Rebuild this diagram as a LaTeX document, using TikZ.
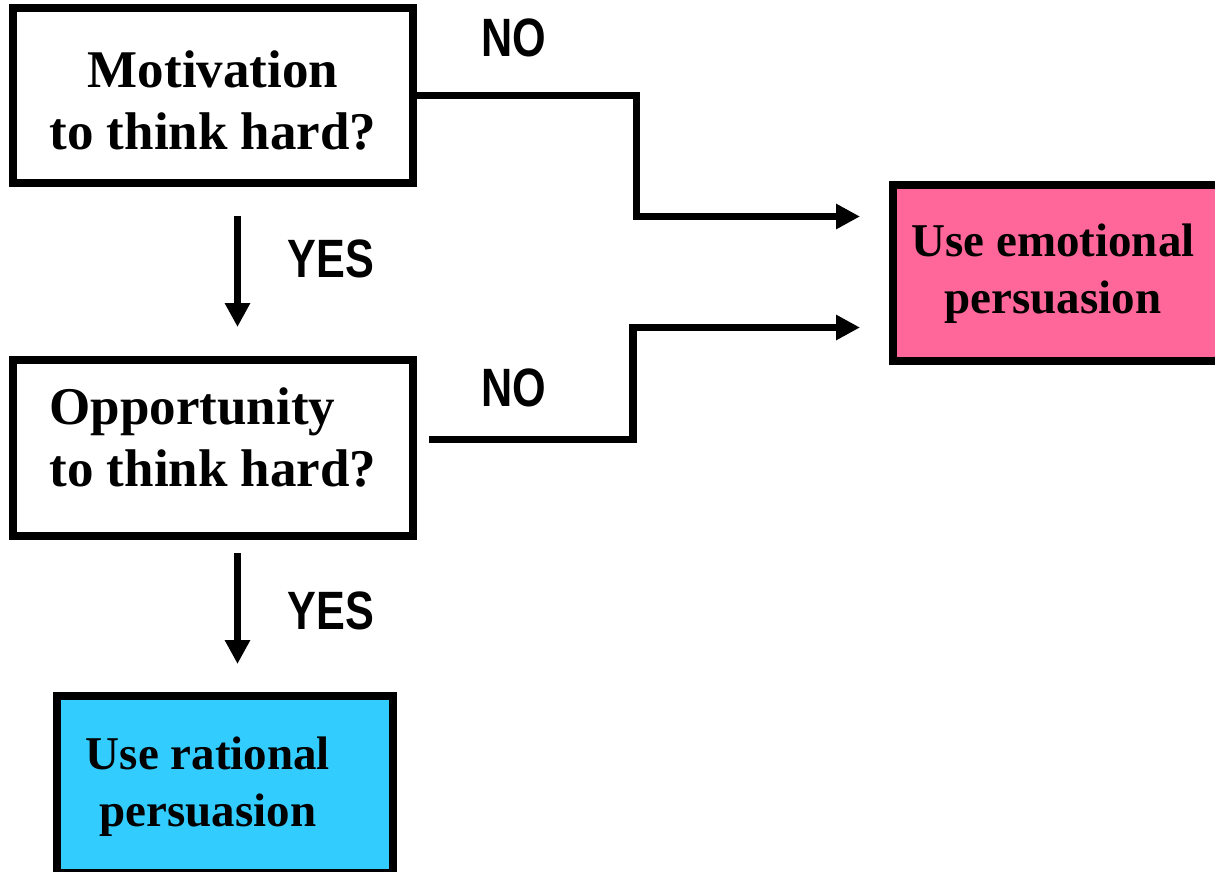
\documentclass[tikz,border=0pt]{standalone}
\usepackage{fontspec}
\usepackage{graphicx}
\setmainfont{Liberation Serif}
\newfontfamily\lblfont{Liberation Sans}
\usetikzlibrary{arrows.meta}
\definecolor{pinkbox}{HTML}{FF6699}
\definecolor{cyanbox}{HTML}{33CCFF}
\begin{document}
\begin{tikzpicture}[x=1pt,y=-1pt,
  box/.style={draw=black, line width=8pt, rectangle, inner sep=0pt, outer sep=0pt},
  txt/.style={font=\bfseries\fontsize{53}{62}\selectfont, inner sep=0pt},
  txtsm/.style={font=\bfseries\fontsize{47}{57}\selectfont, inner sep=0pt},
  lbl/.style={font=\lblfont\bfseries\fontsize{54}{60}\selectfont, inner sep=0pt},
  conn/.style={line width=7.5pt, -{Triangle[length=24pt,width=24pt]}},
]
\useasboundingbox (0,0) rectangle (1215,872);
\clip (0,0) rectangle (1215,872);

% boxes
\node[box, minimum width=400pt, minimum height=175pt] (mot) at (213,95.5) {};
\node[box, minimum width=400pt, minimum height=176pt] (opp) at (213,448) {};
\node[box, fill=pinkbox, minimum width=329pt, minimum height=176pt] (emo) at (1057.5,272.5) {};
\node[box, fill=cyanbox, minimum width=336pt, minimum height=177pt] (rat) at (224.8,784.5) {};

% texts
\node[txt, align=center] (motT) at (213,100) {Motivation\\to think hard?};
\node[txt, align=left] (oppT) at (213,437.5) {Opportunity\\to think hard?};
\node[txtsm, align=center] (emoT) at (1053,274) {Use emotional\\persuasion};
\node[txtsm, align=center] (ratT) at (208,786.5) {Use rational\\persuasion};

% labels
\node[lbl] (no1) at (514,37.5) {\scalebox{0.8}[1]{NO}};
\node[lbl] (no2) at (514,388) {\scalebox{0.8}[1]{NO}};
\node[lbl] (yes1) at (331,259) {\scalebox{0.8}[1]{YES}};
\node[lbl] (yes2) at (331,611) {\scalebox{0.8}[1]{YES}};

% connector ends
\coordinate (a1) at (860,216.5);
\coordinate (a2) at (860,327.5);
\coordinate (o2) at (429,439.5);
\coordinate (d1s) at (237.5,216);
\coordinate (d1e) at (237.5,327);
\coordinate (d2s) at (237.5,553);
\coordinate (d2e) at (237.5,664);

\draw[conn] (mot.east) -- (636.7,95.5) |- (a1);
\draw[conn] (o2) -- (633,439.5) |- (a2);
\draw[conn] (d1s) -- (d1e);
\draw[conn] (d2s) -- (d2e);
\end{tikzpicture}
\end{document}
